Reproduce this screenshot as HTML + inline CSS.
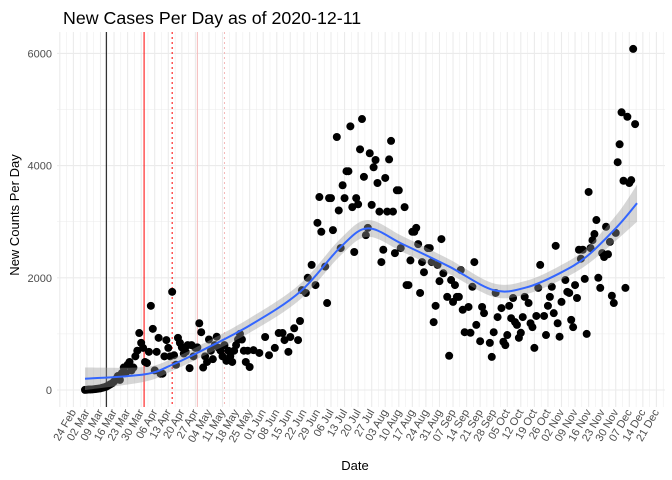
<!DOCTYPE html>
<html><head><meta charset="utf-8"><style>
html,body{margin:0;padding:0;background:#fff;}
svg{display:block;font-family:"Liberation Sans",sans-serif;}
</style></head><body>
<svg id="chart" width="672" height="480" xmlns="http://www.w3.org/2000/svg">
<text x="63" y="24" font-size="17.8" fill="#000">New Cases Per Day as of 2020-12-11</text>
<text x="355" y="470" font-size="13" text-anchor="middle" fill="#000">Date</text>
<text transform="translate(19,215) rotate(-90)" font-size="13" text-anchor="middle" fill="#000">New Counts Per Day</text>
<g id="grid"></g>
<g id="vlines"></g>
<g id="pts"></g>
<g id="smooth"></g>
<g id="axes"></g>
</svg>
<script>
const baseDate = new Date(2020,2,1);
const days = [0,1,2,3,4,5,6,7,8,9,10,11,12,13,14,15,16,17,18,19,20,21,22,23,24,25,26,27,28,29,30,
31,32,33,34,35,36,37,38,39,40,41,42,43,44,45,46,47,48,49,50,51,52,53,54,55,56,57,58,59,60,61,62,63,64,65,66,67,68,69,70,71,72,73,74,75,76,77,78,79,80,81,82,83,84,
85,87,90,93,95,98,100,102,103,105,106,108,110,111,112,114,115,117,119,120,121,122,124,125,126,127,128,130,131,132,133,134,135,136,137,138,139,140,141,142,143,144,145,146,147,148,149,150,151,152,153,154,155,156,157,158,159,160,161,162,163,165,166,167,168,169,170,171,172,173,174,175,177,178,179,180,181,182,183,184,185,187,188,189,190,191,192,193,194,195,196,198,199,
200,201,202,204,205,206,209,210,211,212,213,215,216,217,218,219,220,221,222,223,224,225,226,227,229,230,231,232,233,234,235,237,238,239,240,241,242,243,244,245,246,248,249,250,251,252,253,254,255,256,257,258,259,260,261,262,263,264,265,266,267,268,269,270,271,272,273,274,275,276,277,278,279,280,281,282,283,284];
const cases = [2,5,8,10,12,15,20,25,30,40,50,60,80,100,120,150,200,250,180,300,400,300,450,500,350,400,600,700,1015,840,750,
500,480,680,1500,1090,350,680,930,290,290,600,890,750,600,1750,620,450,930,840,760,650,680,800,390,800,600,750,760,1190,1030,400,600,500,900,700,550,800,950,750,700,600,800,520,700,600,500,700,800,900,1000,900,700,500,700,
410,710,660,945,620,750,1015,1015,890,680,945,1100,890,1230,1780,1730,2000,2230,1870,2980,3440,2820,2200,1550,3420,3420,2850,4510,3200,2530,3650,3420,3900,3900,4700,3260,2460,3420,3310,4290,4830,3800,2760,2890,4220,3300,3970,4100,3690,3180,2280,2500,3780,3180,4110,4440,3180,2440,3560,3560,2530,3260,1870,1870,2310,2820,2820,2890,2600,1730,2280,2100,2530,2530,2280,1210,1500,2230,1940,2690,2080,1660,610,1960,1570,1870,1660,1660,2140,1430,1030,1480,1020,
1840,2280,1160,870,1480,1370,840,590,1030,1730,1300,1460,860,800,980,1500,1280,1640,1210,1160,930,1020,1300,1660,1550,1190,1120,750,1320,1820,2230,1320,980,1500,1660,1840,1370,2570,1190,950,1570,1960,1750,1730,1250,1120,1870,1640,2500,2340,2500,1980,1000,3530,2530,2670,2780,3030,2000,1820,2440,2370,2910,2420,2640,1680,1550,2800,4060,4380,4950,3730,1820,4870,3690,3740,6080,4740];
const smoothDays = [0,31,45,59,85,111,132,146,164,188,211,228,245,259,275,285];
const smoothVals = [200,280,450,680,1150,1750,2550,2880,2600,2200,1780,1830,2080,2380,2920,3330];
const smoothSE = [200,130,110,110,130,140,150,150,140,130,120,120,130,150,230,330];
const yTicks = [0,2000,4000,6000];
const xTickLabels = ["24 Feb","02 Mar","09 Mar","16 Mar","23 Mar","30 Mar","06 Apr","13 Apr","20 Apr","27 Apr","04 May","11 May","18 May","25 May","01 Jun","08 Jun","15 Jun","22 Jun","29 Jun","06 Jul","13 Jul","20 Jul","27 Jul","03 Aug","10 Aug","17 Aug","24 Aug","31 Aug","07 Sep","14 Sep","21 Sep","28 Sep","05 Oct","12 Oct","19 Oct","26 Oct","02 Nov","09 Nov","16 Nov","23 Nov","30 Nov","07 Dec","14 Dec","21 Dec"];
const refDays = [11,30.5,45,58,72];
const refColors = ["#000","#ff0000","#ff0000","#f4b8b8","#f4b8b8"];
const refDash = ["","","2,3","","2,3"];

const NS="http://www.w3.org/2000/svg";
const L=57,R=665,T=32,B=407;
const xs=d=>85+d*1.937;
const ys=v=>390-v*0.0561;
function mk(tag,attrs,parent){const e=document.createElementNS(NS,tag);for(const k in attrs)e.setAttribute(k,attrs[k]);parent.appendChild(e);return e;}
const grid=document.getElementById('grid'),vl=document.getElementById('vlines'),pts=document.getElementById('pts'),sm=document.getElementById('smooth'),ax=document.getElementById('axes');
for(let v=-1000;v<=7000;v+=1000){const y=ys(v);if(y<T||y>B)continue;
 const g=mk('line',{x1:L,x2:R,y1:y,y2:y,stroke:'#ebebeb','stroke-width':(v%2000===0)?1.1:0.5},grid);
 }
for(let i=-1;i<=xTickLabels.length;i++){
 const d=-6+i*7;
 [d,d+3.5].forEach((dd,j)=>{const x=xs(dd);if(x<L||x>R)return;
  const g=mk('line',{x1:x,x2:x,y1:T,y2:B,stroke:'#ebebeb','stroke-width':j===0?1.1:0.5},grid);
  });
}
yTicks.forEach(v=>{const t=mk('text',{x:52,y:ys(v)+4,'font-size':11,'text-anchor':'end',fill:'#4d4d4d'},ax);t.textContent=v;
 });
xTickLabels.forEach((lab,i)=>{const x=xs(-6+i*7);
 const t=mk('text',{transform:`translate(${x+3},${412}) rotate(-60)`,'font-size':11,'text-anchor':'end',fill:'#4d4d4d'},ax);t.textContent=lab;
 });
refDays.forEach((d,i)=>{const x=xs(d);
 const a={x1:x,x2:x,y1:T,y2:B,stroke:refColors[i],'stroke-width':1};if(refDash[i])a['stroke-dasharray']=refDash[i];
 const l=mk('line',a,vl);
 });
days.forEach((d,i)=>{const c=mk('circle',{cx:xs(d),cy:ys(cases[i]),r:4,fill:'#000'},pts);
 });
function curve(vals){let p=[];for(let i=0;i<smoothDays.length;i++)p.push([xs(smoothDays[i]),ys(vals[i])]);return p;}
function pathFrom(p,move){let s=(move?'M':'L')+p[0][0]+','+p[0][1];
 for(let i=0;i<p.length-1;i++){const p0=p[Math.max(0,i-1)],p1=p[i],p2=p[i+1],p3=p[Math.min(p.length-1,i+2)];
  s+=`C${p1[0]+(p2[0]-p0[0])/6},${p1[1]+(p2[1]-p0[1])/6} ${p2[0]-(p3[0]-p1[0])/6},${p2[1]-(p3[1]-p1[1])/6} ${p2[0]},${p2[1]}`;}
 return s;}
const up=curve(smoothVals.map((v,i)=>v+smoothSE[i])),lo=curve(smoothVals.map((v,i)=>v-smoothSE[i])).reverse();
const band=mk('path',{d:pathFrom(up,true)+pathFrom(lo,false)+'Z',fill:'#999','fill-opacity':0.4},sm);

const line=mk('path',{d:pathFrom(curve(smoothVals),true),fill:'none',stroke:'#3366ff','stroke-width':2},sm);

</script>
</body></html>
